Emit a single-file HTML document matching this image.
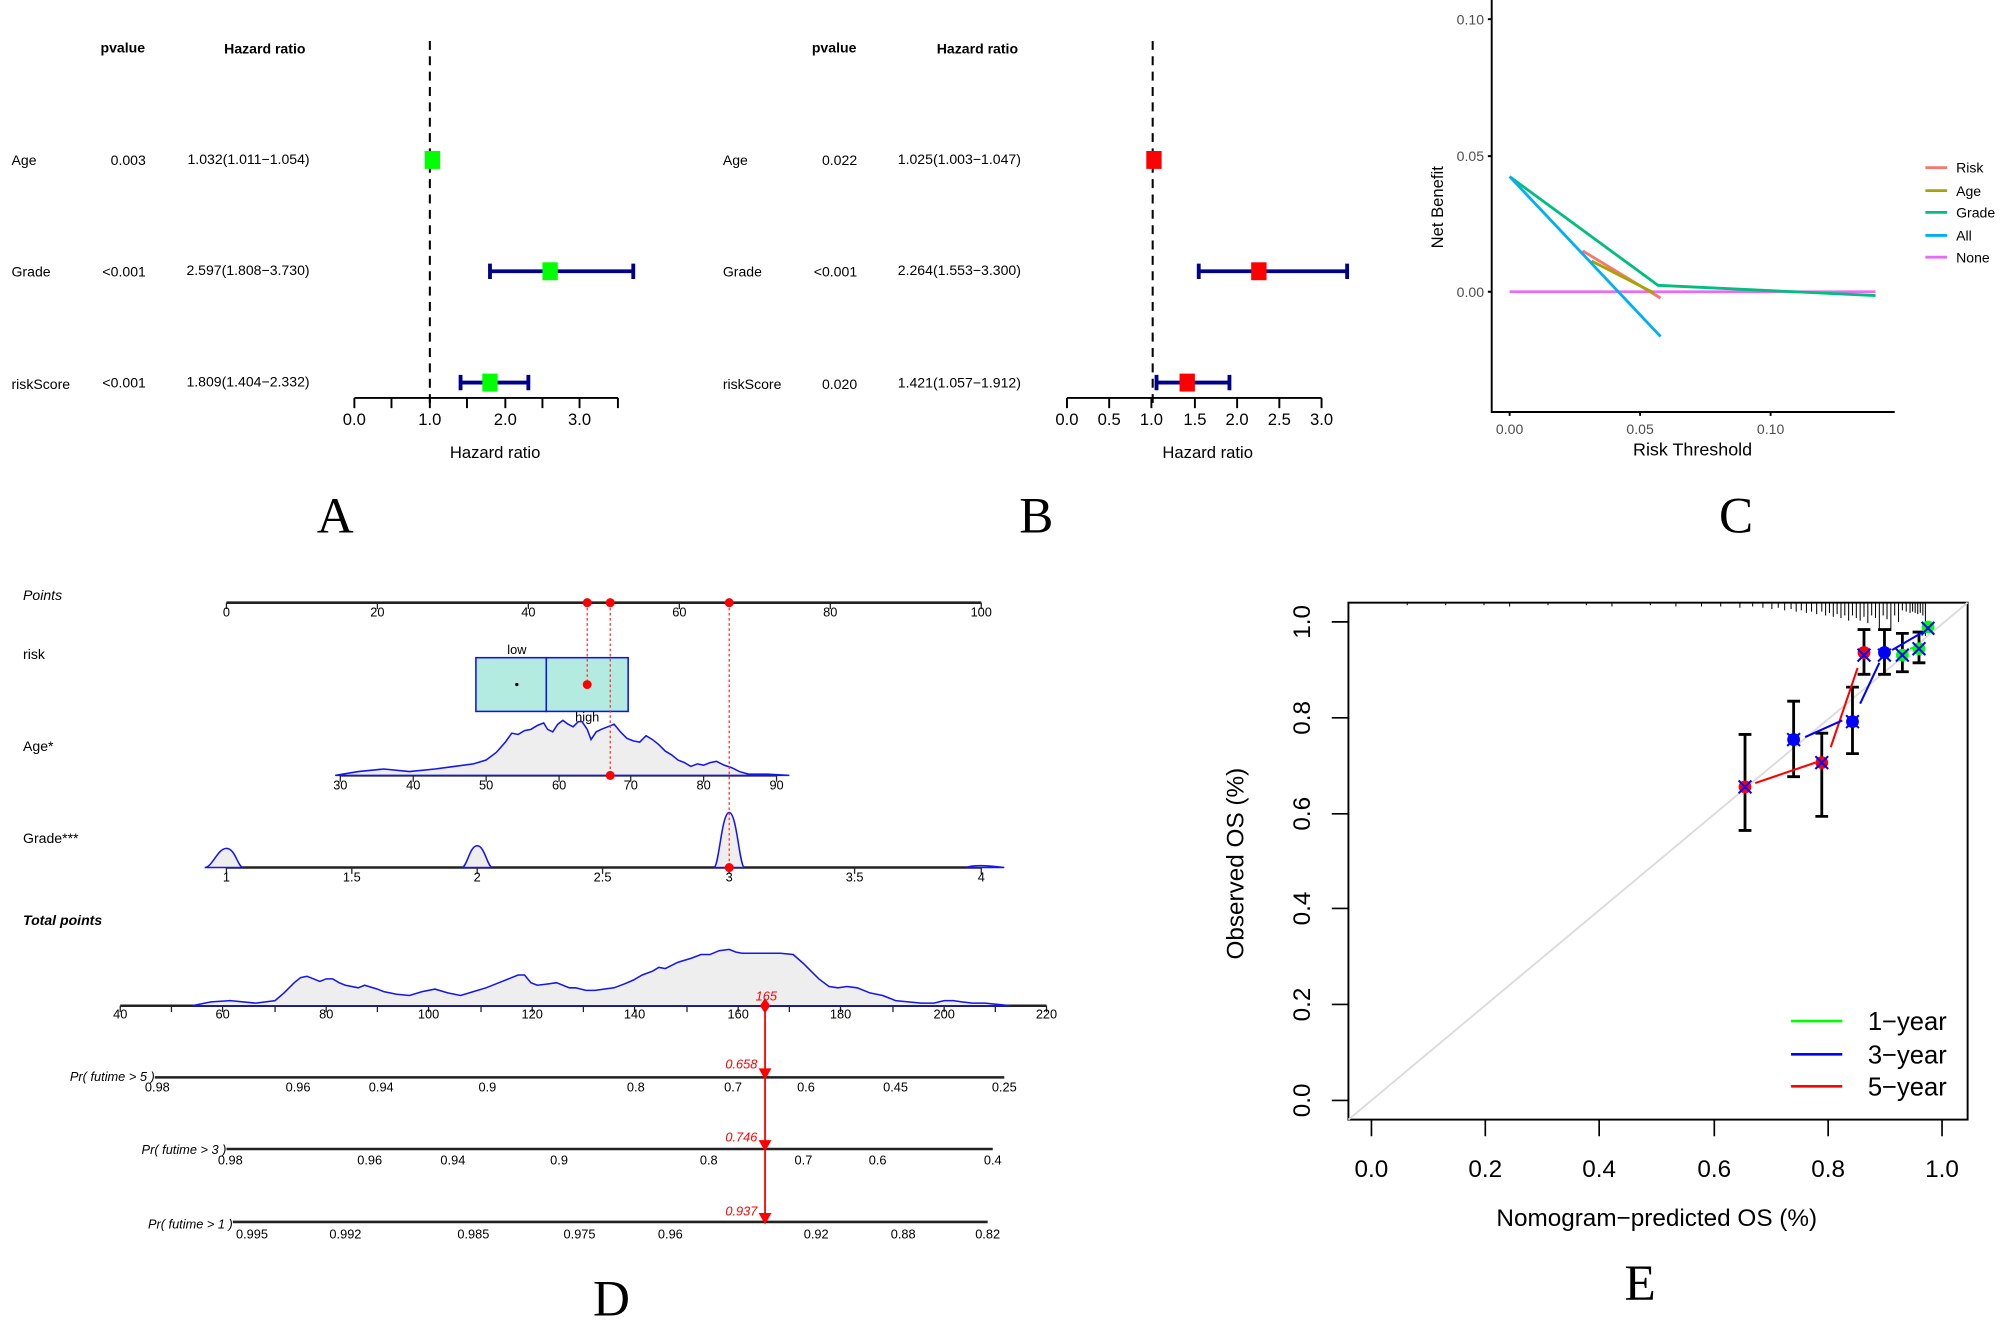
<!DOCTYPE html>
<html><head><meta charset="utf-8"><style>
html,body{margin:0;padding:0;background:#fff;}
svg{display:block;}
text{font-family:"Liberation Sans",sans-serif;}
.s{font-family:"Liberation Serif",serif;font-size:40px;}
</style></head><body>
<svg width="2006" height="1332" viewBox="0 0 1568 1041" preserveAspectRatio="none" xmlns="http://www.w3.org/2000/svg">
<rect width="1568" height="1041" fill="#fff"/>

<!-- Panel A -->
<g font-size="11">
<text x="96" y="41" text-anchor="middle" font-weight="bold">pvalue</text>
<text x="207" y="42" text-anchor="middle" font-weight="bold">Hazard ratio</text>
<text x="9" y="129">Age</text><text x="114" y="129" text-anchor="end">0.003</text><text x="242" y="128" text-anchor="end">1.032(1.011−1.054)</text>
<text x="9" y="216">Grade</text><text x="114" y="216" text-anchor="end">&lt;0.001</text><text x="242" y="215" text-anchor="end">2.597(1.808−3.730)</text>
<text x="9" y="304">riskScore</text><text x="114" y="303" text-anchor="end">&lt;0.001</text><text x="242" y="302" text-anchor="end">1.809(1.404−2.332)</text>
</g>
<line x1="336" y1="32" x2="336" y2="318" stroke="#000" stroke-width="1.6" stroke-dasharray="7,5"/>
<g stroke="#000" stroke-width="1.5" fill="none">
<path d="M277 311H483M277 311v8M306 311v8M336 311v8M365 311v8M395 311v8M424 311v8M453 311v8M483 311v8"/>
</g>
<g font-size="13" text-anchor="middle"><text x="277" y="332">0.0</text><text x="336" y="332">1.0</text><text x="395" y="332">2.0</text><text x="453" y="332">3.0</text><text x="387" y="358">Hazard ratio</text></g>
<g stroke="#00008B" stroke-width="3"><path d="M383 212H495M383 206v12M495 206v12M360 299H413M360 293v12M413 293v12"/></g>
<g fill="#00FF00"><rect x="332" y="118" width="12" height="14"/><rect x="424" y="205" width="12" height="14"/><rect x="377" y="292" width="12" height="14"/></g>
<text class="s" x="262" y="416" text-anchor="middle">A</text>

<!-- Panel B -->
<g font-size="11">
<text x="652" y="41" text-anchor="middle" font-weight="bold">pvalue</text>
<text x="764" y="42" text-anchor="middle" font-weight="bold">Hazard ratio</text>
<text x="565" y="129">Age</text><text x="670" y="129" text-anchor="end">0.022</text><text x="798" y="128" text-anchor="end">1.025(1.003−1.047)</text>
<text x="565" y="216">Grade</text><text x="670" y="216" text-anchor="end">&lt;0.001</text><text x="798" y="215" text-anchor="end">2.264(1.553−3.300)</text>
<text x="565" y="304">riskScore</text><text x="670" y="304" text-anchor="end">0.020</text><text x="798" y="303" text-anchor="end">1.421(1.057−1.912)</text>
</g>
<line x1="901" y1="32" x2="901" y2="318" stroke="#000" stroke-width="1.6" stroke-dasharray="7,5"/>
<g stroke="#000" stroke-width="1.5" fill="none">
<path d="M834 311H1033M834 311v8M867 311v8M900 311v8M934 311v8M967 311v8M1000 311v8M1033 311v8"/>
</g>
<g font-size="13" text-anchor="middle"><text x="834" y="332">0.0</text><text x="867" y="332">0.5</text><text x="900" y="332">1.0</text><text x="934" y="332">1.5</text><text x="967" y="332">2.0</text><text x="1000" y="332">2.5</text><text x="1033" y="332">3.0</text><text x="944" y="358">Hazard ratio</text></g>
<g stroke="#00008B" stroke-width="3"><path d="M937 212H1053M937 206v12M1053 206v12M904 299H961M904 293v12M961 293v12"/></g>
<g fill="#FF0000"><rect x="896" y="118" width="12" height="14"/><rect x="978" y="205" width="12" height="14"/><rect x="922" y="292" width="12" height="14"/></g>
<text class="s" x="810" y="416" text-anchor="middle">B</text>

<!-- Panel C -->
<g stroke="#000" stroke-width="1.5" fill="none"><path d="M1166 0V322H1481M1163 15h3M1163 122h3M1163 228h3M1180 322v3M1282 322v3M1384 322v3"/></g>
<g font-size="11" fill="#4d4d4d"><text x="1160" y="19" text-anchor="end">0.10</text><text x="1160" y="126" text-anchor="end">0.05</text><text x="1160" y="232" text-anchor="end">0.00</text>
<text x="1180" y="339" text-anchor="middle">0.00</text><text x="1282" y="339" text-anchor="middle">0.05</text><text x="1384" y="339" text-anchor="middle">0.10</text></g>
<text x="1323" y="356" font-size="14" text-anchor="middle">Risk Threshold</text>
<text transform="translate(1128,162) rotate(-90)" font-size="13" text-anchor="middle">Net Benefit</text>
<g fill="none" stroke-width="2.2">
<path d="M1180 228H1466" stroke="#E76BF3"/>
<path d="M1180 138L1296 223L1466 231" stroke="#00BF7D"/>
<path d="M1237 196L1298 233" stroke="#F8766D"/>
<path d="M1244 204L1293 229" stroke="#A3A500"/>
<path d="M1180 138L1298 263" stroke="#00B0F6"/>
</g>
<g stroke-width="2.2"><path d="M1505 131h17" stroke="#F8766D"/><path d="M1505 149h17" stroke="#A3A500"/><path d="M1505 166h17" stroke="#00BF7D"/><path d="M1505 184h17" stroke="#00B0F6"/><path d="M1505 201h17" stroke="#E76BF3"/></g>
<g font-size="11"><text x="1529" y="135">Risk</text><text x="1529" y="153">Age</text><text x="1529" y="170">Grade</text><text x="1529" y="188">All</text><text x="1529" y="205">None</text></g>
<text class="s" x="1357" y="416" text-anchor="middle">C</text>

<!-- Panel D -->
<g font-size="11">
<text x="18" y="469" font-style="italic">Points</text>
<text x="18" y="515">risk</text>
<text x="18" y="587">Age*</text>
<text x="18" y="659">Grade***</text>
<text x="18" y="723" font-style="italic" font-weight="bold">Total points</text>
</g>
<g stroke="#222" stroke-width="2" fill="none">
<path d="M177 471H767M266 606H607M177 678H767M94 786H818M121 842H785M177 898H776M182 955H772"/>
</g>
<g stroke="#222" stroke-width="1" fill="none">
<path d="M177 471v5M295 471v5M413 471v5M531 471v5M649 471v5M767 471v5"/>
<path d="M266 606v5M323 606v5M380 606v5M437 606v5M493 606v5M550 606v5M607 606v5"/>
<path d="M177 678v5M275 678v5M373 678v5M471 678v5M570 678v5M668 678v5M767 678v5"/>
<path d="M94 786v5M134 786v5M174 786v5M215 786v5M255 786v5M295 786v5M335 786v5M376 786v5M416 786v5M456 786v5M496 786v5M537 786v5M577 786v5M617 786v5M657 786v5M698 786v5M738 786v5M778 786v5M818 786v5"/>
</g>
<g font-size="10" text-anchor="middle">
<text x="177" y="482">0</text><text x="295" y="482">20</text><text x="413" y="482">40</text><text x="531" y="482">60</text><text x="649" y="482">80</text><text x="767" y="482">100</text>
<text x="266" y="617">30</text><text x="323" y="617">40</text><text x="380" y="617">50</text><text x="437" y="617">60</text><text x="493" y="617">70</text><text x="550" y="617">80</text><text x="607" y="617">90</text>
<text x="177" y="689">1</text><text x="275" y="689">1.5</text><text x="373" y="689">2</text><text x="471" y="689">2.5</text><text x="570" y="689">3</text><text x="668" y="689">3.5</text><text x="767" y="689">4</text>
<text x="94" y="796">40</text><text x="174" y="796">60</text><text x="255" y="796">80</text><text x="335" y="796">100</text><text x="416" y="796">120</text><text x="496" y="796">140</text><text x="577" y="796">160</text><text x="657" y="796">180</text><text x="738" y="796">200</text><text x="818" y="796">220</text>
<text x="123" y="853">0.98</text><text x="233" y="853">0.96</text><text x="298" y="853">0.94</text><text x="381" y="853">0.9</text><text x="497" y="853">0.8</text><text x="573" y="853">0.7</text><text x="630" y="853">0.6</text><text x="700" y="853">0.45</text><text x="785" y="853">0.25</text>
<text x="180" y="910">0.98</text><text x="289" y="910">0.96</text><text x="354" y="910">0.94</text><text x="437" y="910">0.9</text><text x="554" y="910">0.8</text><text x="628" y="910">0.7</text><text x="686" y="910">0.6</text><text x="776" y="910">0.4</text>
<text x="197" y="968">0.995</text><text x="270" y="968">0.992</text><text x="370" y="968">0.985</text><text x="453" y="968">0.975</text><text x="524" y="968">0.96</text><text x="638" y="968">0.92</text><text x="706" y="968">0.88</text><text x="772" y="968">0.82</text>
</g>
<g font-size="10" font-style="italic" text-anchor="end"><text x="121" y="845">Pr( futime &gt; 5 )</text><text x="177" y="902">Pr( futime &gt; 3 )</text><text x="182" y="960">Pr( futime &gt; 1 )</text></g>
<!-- risk boxes -->
<rect x="372" y="514" width="55" height="42" fill="#B3EBE0" stroke="#1010ee" stroke-width="1.2"/>
<rect x="427" y="514" width="64" height="42" fill="#B3EBE0" stroke="#1010ee" stroke-width="1.2"/>
<text x="404" y="511" font-size="10" text-anchor="middle">low</text>
<text x="459" y="564" font-size="10" text-anchor="middle">high</text>
<circle cx="404" cy="535" r="1.3" fill="#000"/>
<!-- densities -->
<path d="M262,606 280,603 300,601 320,603 340,601 355,599 370,597 380,594 388,588 395,580 400,573 405,574 410,571 415,570 420,567 425,565 428,570 432,572 436,566 440,563 444,566 448,568 452,564 455,564 459,570 462,578 466,572 470,570 475,568 480,566 485,572 490,577 495,579 500,580 505,575 510,578 515,582 520,587 525,590 530,594 535,596 540,599 545,597 550,598 555,596 560,595 566,598 572,600 578,603 585,605 600,605 617,606Z" fill="#EEEEEE" stroke="#1515ee" stroke-width="1.2"/>
<path d="M160 678C166 678 170 663 177 663C184 663 186 678 190 678Z M361 678C365 678 367 661 373 661C379 661 381 678 385 678Z M558 678C562 678 564 635 570 635C576 635 578 678 582 678Z M755 678C760 676 770 676 785 678Z" fill="#EEEEEE" stroke="#1515ee" stroke-width="1.2"/>
<path d="M150,786 165,783 180,782 200,784 215,782 222,776 230,768 235,764 240,763 245,765 250,767 255,765 260,765 265,768 270,770 280,772 285,770 295,773 300,775 310,777 320,778 330,775 340,773 350,776 360,778 370,775 380,772 390,768 400,764 405,762 410,762 415,768 420,770 428,769 435,768 445,772 450,772 458,774 465,774 472,773 480,772 488,769 495,766 502,762 510,759 515,756 520,757 530,752 540,749 548,746 555,746 562,743 570,742 575,744 580,745 590,745 600,745 610,745 620,746 628,753 635,760 640,765 648,771 655,772 662,771 670,772 680,776 690,778 700,782 710,783 720,784 730,784 738,782 745,782 752,783 760,784 770,784 780,785 790,786Z" fill="#EEEEEE" stroke="#1515ee" stroke-width="1.2"/>
<!-- red guide lines -->
<g stroke="#FF3030" stroke-width="1" stroke-dasharray="2,2" fill="none"><path d="M459 471V535M477 471V606M570 471V678"/></g>
<g fill="#FF0000"><circle cx="459" cy="471" r="3.5"/><circle cx="477" cy="471" r="3.5"/><circle cx="570" cy="471" r="3.5"/><circle cx="459" cy="535" r="3.5"/><circle cx="477" cy="606" r="3.5"/><circle cx="570" cy="678" r="3.5"/>
<path d="M598 780L602 786L598 792L594 786Z"/>
<path d="M593 835H603L598 844Z"/><path d="M593 891H603L598 900Z"/><path d="M593 948H603L598 957Z"/></g>
<line x1="598" y1="786" x2="598" y2="950" stroke="#FF0000" stroke-width="1.4"/>
<g font-size="10" font-style="italic" fill="#FF0000"><text x="599" y="782" text-anchor="middle">165</text><text x="592" y="835" text-anchor="end">0.658</text><text x="592" y="892" text-anchor="end">0.746</text><text x="592" y="950" text-anchor="end">0.937</text></g>
<text class="s" x="478" y="1028" text-anchor="middle">D</text>

<!-- Panel E -->
<rect x="1054" y="471" width="484" height="404" fill="none" stroke="#000" stroke-width="1.5"/>
<line x1="1054" y1="875" x2="1538" y2="471" stroke="#dcdcdc" stroke-width="1.5"/>
<g stroke="#000" stroke-width="1.3"><path d="M1072 875v13M1161 875v13M1250 875v13M1340 875v13M1429 875v13M1518 875v13M1054 860h-13M1054 785h-13M1054 710h-13M1054 636h-13M1054 561h-13M1054 486h-13"/></g>
<g font-size="19" text-anchor="middle"><text x="1072" y="920">0.0</text><text x="1161" y="920">0.2</text><text x="1250" y="920">0.4</text><text x="1340" y="920">0.6</text><text x="1429" y="920">0.8</text><text x="1518" y="920">1.0</text>
<text x="1295" y="958">Nomogram−predicted OS (%)</text></g>
<g font-size="19" text-anchor="middle">
<text transform="translate(1024,860) rotate(-90)">0.0</text><text transform="translate(1024,785) rotate(-90)">0.2</text><text transform="translate(1024,710) rotate(-90)">0.4</text><text transform="translate(1024,636) rotate(-90)">0.6</text><text transform="translate(1024,561) rotate(-90)">0.8</text><text transform="translate(1024,486) rotate(-90)">1.0</text>
<text transform="translate(972,675) rotate(-90)">Observed OS (%)</text></g>
<!-- rug -->
<g stroke="#000" stroke-width="0.8"><path d="M1100 471v2M1130 471v2M1160 471v2M1180 471v3M1210 471v2M1240 471v2M1260 471v3M1290 471v2M1310 471v3M1330 471v3M1345 471v3M1360 471v4M1370 471v3M1378 471v4M1385 471v5M1390 471v4M1395 471v6M1400 471v5M1404 471v7M1408 471v6M1412 471v8M1416 471v7M1420 471v9M1424 471v7M1427 471v10M1430 471v8M1433 471v11M1436 471v9M1439 471v12M1442 471v10M1445 471v14M1448 471v10M1451 471v12M1454 471v14M1457 471v11M1460 471v16M1463 471v10M1466 471v12M1469 471v20M1472 471v10M1475 471v13M1478 471v22M1481 471v10M1484 471v15M1487 471v6M1490 471v7M1493 471v8M1495 471v7M1497 471v8M1499 471v9M1501 471v8M1503 471v10M1505 471v26"/></g>
<!-- error bars -->
<g stroke="#000" stroke-width="2.2"><path d="M1364 649V574M1359 649h10M1359 574h10 M1402 607V548M1397 607h10M1397 548h10 M1424 638V573M1419 638h10M1419 573h10 M1448 589V537M1443 589h10M1443 537h10 M1457 527V492M1452 527h10M1452 492h10 M1473 527V492M1468 527h10M1468 492h10 M1487 525V495M1482 525h10M1482 495h10 M1500 518V494M1495 518h10M1495 494h10"/></g>
<!-- series -->
<g fill="none" stroke-width="1.6">
<path d="M1372 612L1419 596M1431 584L1452 522" stroke="#FF0000"/>
<path d="M1411 576L1440 563M1454 550L1469 518M1479 508L1503 494" stroke="#0000FF"/>
<path d="M1493 507L1496 506M1502 497L1508 488" stroke="#00FF00"/>
</g>
<g fill="#FF0000"><circle cx="1364" cy="615" r="5"/><circle cx="1424" cy="596" r="5"/><circle cx="1457" cy="510" r="5"/></g>
<g fill="#0000FF"><circle cx="1402" cy="578" r="5"/><circle cx="1448" cy="564" r="5"/><circle cx="1473" cy="510" r="5"/></g>
<g fill="#00FF00"><circle cx="1487" cy="512" r="5"/><circle cx="1500" cy="507" r="5"/><circle cx="1507" cy="490" r="5"/></g>
<g stroke="#0000FF" stroke-width="1.6"><path d="M1359 610l10 10M1369 610l-10 10M1397 573l10 10M1407 573l-10 10M1419 591l10 10M1429 591l-10 10M1443 559l10 10M1453 559l-10 10M1452 507l10 10M1462 507l-10 10M1468 507l10 10M1478 507l-10 10M1482 507l10 10M1492 507l-10 10M1495 502l10 10M1505 502l-10 10M1502 486l10 10M1512 486l-10 10"/></g>
<!-- legend -->
<g stroke-width="2"><path d="M1400 798h40" stroke="#00FF00"/><path d="M1400 824h40" stroke="#0000FF"/><path d="M1400 849h40" stroke="#FF0000"/></g>
<g font-size="20"><text x="1460" y="805">1−year</text><text x="1460" y="831">3−year</text><text x="1460" y="856">5−year</text></g>
<text class="s" x="1282" y="1016" text-anchor="middle">E</text>
</svg>
</body></html>
